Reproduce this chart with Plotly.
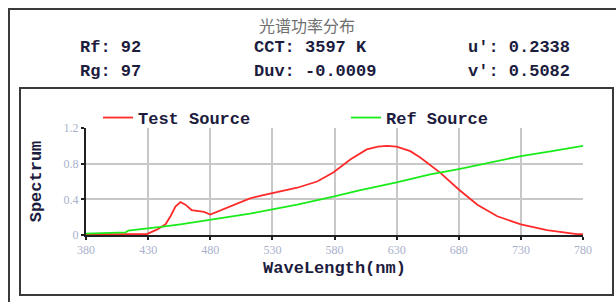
import plotly.graph_objects as go

# ---------------- data ----------------
test_wl = [380, 400, 420, 429, 437, 444, 448, 452, 456, 460, 465, 470, 475, 480,
           487, 494, 500, 507, 512, 520, 531, 540, 550, 566, 579, 593, 606, 615,
           622, 630, 641, 649, 657, 665, 680, 695, 711, 730, 751, 767, 775, 780]
test_val = [0.01, 0.01, 0.01, 0.01, 0.06, 0.12, 0.21, 0.32, 0.37, 0.34, 0.28, 0.27,
            0.26, 0.23, 0.27, 0.31, 0.34, 0.38, 0.41, 0.44, 0.47, 0.50, 0.53, 0.60,
            0.70, 0.85, 0.96, 0.99, 1.0, 0.99, 0.94, 0.87, 0.78, 0.70, 0.51, 0.34,
            0.21, 0.12, 0.055, 0.025, 0.01, 0.01]

ref_wl = [380, 390, 400, 412, 414, 429, 440, 456, 480, 500, 512, 531, 550, 579,
          600, 630, 649, 657, 680, 700, 730, 755, 780]
ref_val = [0.015, 0.02, 0.025, 0.03, 0.05, 0.07, 0.09, 0.12, 0.17, 0.21, 0.24, 0.29,
           0.34, 0.43, 0.50, 0.59, 0.65, 0.68, 0.74, 0.80, 0.885, 0.94, 1.0]

x_ticks = [380, 430, 480, 530, 580, 630, 680, 730, 780]
y_ticks = [0, 0.4, 0.8, 1.2]
y_tick_text = ["0", "0.4", "0.8", "1.2"]

chart_title = "光谱功率分布"
info_left = ["Rf: 92", "Rg: 97"]
info_mid = ["CCT: 3597 K", "Duv: -0.0009"]
info_right = ["u': 0.2338", "v': 0.5082"]

# ---------------- layout helpers ----------------
W, H = 616, 302
ML, MR, MT, MB = 86, 33, 128, 67
PW, PH = W - ML - MR, H - MT - MB


def px(xp):
    return (xp - ML) / PW


def py(yp):
    return (H - MB - yp) / PH


MONO = "Liberation Mono"
TXT = "#1c1c3e"
LEG_FONT = dict(family=MONO, size=17, color=TXT, weight="bold")

fig = go.Figure()
fig.add_trace(go.Scatter(x=test_wl, y=test_val, mode="lines", name="Test Source",
                         legend="legend",
                         line=dict(color="#ff2a2a", width=1.8)))
fig.add_trace(go.Scatter(x=ref_wl, y=ref_val, mode="lines", name="Ref Source",
                         legend="legend2",
                         line=dict(color="#1aeb1a", width=1.8)))

fig.update_layout(
    width=W, height=H,
    margin=dict(l=ML, r=MR, t=MT, b=MB),
    paper_bgcolor="white", plot_bgcolor="white",
    showlegend=True,
    legend=dict(x=px(98), y=py(118), xanchor="left", yanchor="middle",
                font=LEG_FONT, itemwidth=30, bgcolor="rgba(0,0,0,0)"),
    legend2=dict(x=px(346), y=py(118), xanchor="left", yanchor="middle",
                 font=LEG_FONT, itemwidth=30, bgcolor="rgba(0,0,0,0)"),
    xaxis=dict(range=[380, 780], tickvals=x_ticks, ticktext=[str(v) for v in x_ticks],
               showgrid=True, gridcolor="#c8c8c8", gridwidth=1.5,
               showline=True, linecolor="#202020", linewidth=2,
               ticks="outside", ticklen=3, tickwidth=1.5, tickcolor="#202020",
               tickfont=dict(family="Liberation Serif", size=12, color="#a9b1cc"),
               title=dict(text="WaveLength(nm)", standoff=5,
                          font=dict(family=MONO, size=17, color=TXT, weight="bold")),
               zeroline=False, mirror=False),
    yaxis=dict(range=[0, 1.2], tickvals=y_ticks, ticktext=y_tick_text,
               showgrid=True, gridcolor="#c8c8c8", gridwidth=1.5,
               showline=True, linecolor="#202020", linewidth=2,
               ticks="outside", ticklen=3, tickwidth=1.5, tickcolor="#202020",
               tickfont=dict(family="Liberation Serif", size=12, color="#a9b1cc"),
               title=dict(text="Spectrum", standoff=18,
                          font=dict(family=MONO, size=17, color=TXT, weight="bold")),
               zeroline=False),
)

# outer and inner boxes
fig.add_shape(type="rect", xref="paper", yref="paper",
              x0=px(9), x1=px(622), y0=py(9), y1=py(310),
              line=dict(color="#3a3a3a", width=2), layer="below")
fig.add_shape(type="rect", xref="paper", yref="paper",
              x0=px(20), x1=px(613), y0=py(88), y1=py(295),
              line=dict(color="#3a3a3a", width=2), layer="below")

ann = []
ann.append(dict(text=chart_title, x=px(307), y=py(25), xref="paper", yref="paper",
                showarrow=False, xanchor="center", yanchor="middle",
                font=dict(family="Noto Sans CJK SC", size=16, color="#707070")))
for col, xpos in ((info_left, 78), (info_mid, 252), (info_right, 466)):
    for i, t in enumerate(col):
        ann.append(dict(text=t, x=px(xpos), y=py(48 + 23 * i), xref="paper", yref="paper",
                        showarrow=False, xanchor="left", yanchor="middle",
                        font=dict(family=MONO, size=17, color=TXT, weight="bold")))
fig.update_layout(annotations=ann)

fig.write_html("out.html",
               config={"displayModeBar": False},
               post_script="document.body.style.margin='0';document.body.style.overflow='hidden';")
